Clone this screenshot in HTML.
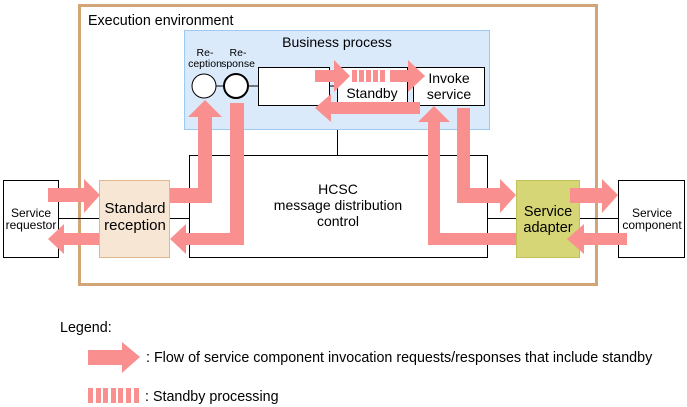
<!DOCTYPE html>
<html><head><meta charset="utf-8"><style>
html,body{margin:0;padding:0;background:#fff;}
svg{display:block;font-family:"Liberation Sans",sans-serif;}
</style></head><body>
<svg width="687" height="407" viewBox="0 0 687 407" xmlns="http://www.w3.org/2000/svg">
<rect x="79.5" y="5.5" width="517" height="279" fill="none" stroke="#d2a578" stroke-width="3"/>
<text x="88" y="25" font-size="14.3" fill="#000">Execution environment</text>
<rect x="184.5" y="30.5" width="305" height="99" fill="#dbeafb" stroke="#9ccaf0"/>
<text x="337" y="47" font-size="14" text-anchor="middle">Business process</text>
<text x="205" y="56" font-size="10.5" text-anchor="middle">Re-</text>
<text x="205" y="67" font-size="10.5" text-anchor="middle">ception</text>
<text x="238" y="56" font-size="10.5" text-anchor="middle">Re-</text>
<text x="238" y="67" font-size="10.5" text-anchor="middle">sponse</text>
<line x1="216" y1="86" x2="224" y2="86" stroke="#000"/>
<line x1="249" y1="86" x2="258" y2="86" stroke="#000"/>
<line x1="329" y1="86" x2="337" y2="86" stroke="#000"/>
<line x1="407" y1="86" x2="413" y2="86" stroke="#000"/>
<circle cx="204" cy="86" r="12" fill="#fff" stroke="#000"/>
<circle cx="236" cy="86" r="12" fill="#fff" stroke="#000" stroke-width="2"/>
<rect x="258.5" y="67.5" width="71" height="38" fill="#fff" stroke="#000"/>
<rect x="337.5" y="67.5" width="70" height="38" fill="#fff" stroke="#000"/>
<text x="372" y="98" font-size="14" text-anchor="middle">Standby</text>
<rect x="413.5" y="67.5" width="71" height="38" fill="#fff" stroke="#000"/>
<text x="449" y="83" font-size="14" text-anchor="middle">Invoke</text>
<text x="449" y="99" font-size="14" text-anchor="middle">service</text>
<line x1="337.5" y1="130" x2="337.5" y2="155" stroke="#000"/>
<rect x="189.5" y="155.5" width="298" height="102" fill="#fff" stroke="#000"/>
<text x="338" y="194" font-size="14" text-anchor="middle">HCSC</text>
<text x="338" y="210" font-size="14" text-anchor="middle">message distribution</text>
<text x="338" y="226" font-size="14" text-anchor="middle">control</text>
<line x1="58" y1="218.5" x2="99" y2="218.5" stroke="#000"/>
<line x1="169" y1="218.5" x2="189" y2="218.5" stroke="#000"/>
<line x1="487" y1="218.5" x2="516" y2="218.5" stroke="#000"/>
<line x1="579" y1="218.5" x2="618" y2="218.5" stroke="#000"/>
<rect x="3.5" y="180.5" width="55" height="77" fill="#fff" stroke="#000"/>
<text x="31" y="217" font-size="12" text-anchor="middle">Service</text>
<text x="31" y="229" font-size="12" text-anchor="middle">requestor</text>
<rect x="99.5" y="180.5" width="70" height="77" fill="#f7e6d4" stroke="#e0b890"/>
<text x="135" y="213" font-size="15" text-anchor="middle">Standard</text>
<text x="135" y="230" font-size="15" text-anchor="middle">reception</text>
<rect x="516.5" y="180.5" width="63" height="77" fill="#d7d676" stroke="#c2c25a"/>
<text x="548" y="216" font-size="14.5" text-anchor="middle">Service</text>
<text x="548" y="232" font-size="14.5" text-anchor="middle">adapter</text>
<rect x="618.5" y="180.5" width="66" height="77" fill="#fff" stroke="#000"/>
<text x="652" y="217" font-size="12" text-anchor="middle">Service</text>
<text x="652" y="229" font-size="12" text-anchor="middle">component</text>
<g fill="#f98f8f">
<polygon points="48,188 84,188 84,179 100,195 84,213 84,202 48,202"/>
<polygon points="99,233 64,233 64,224 48,239 64,254 64,245 99,245"/>
<polygon points="170,188 198,188 198,117 188,117 205,100 222,117 212,117 212,203 170,203"/>
<polygon points="230,103 244,103 244,245 186,245 186,254 170,239 186,224 186,233 230,233"/>
<polygon points="315,70 334,70 334,60 350,76 334,92 334,82 315,82"/>
<rect x="352" y="70" width="5" height="12"/><rect x="359" y="70" width="5" height="12"/><rect x="366" y="70" width="5" height="12"/><rect x="373" y="70" width="5" height="12"/><rect x="380" y="70" width="5" height="12"/>
<polygon points="390,70 408,70 408,60 425,76 408,92 408,82 390,82"/>
<polygon points="420,102 331,102 331,94 315,108 331,122 331,114 420,114"/>
<polygon points="457,108 470,108 470,188 500,188 500,179 516,195 500,213 500,203 457,203"/>
<polygon points="516,233 516,245 428,245 428,122 418,122 434,106 450,122 440,122 440,233"/>
<polygon points="570,188 602,188 602,179 618,195 602,213 602,203 570,203"/>
<polygon points="627,233 584,233 584,224 567,239 584,254 584,245 627,245"/>
<polygon points="88,350 122,350 122,342 140,357 122,373 122,365 88,365"/>
<rect x="88" y="388" width="5" height="15"/><rect x="96" y="388" width="5" height="15"/><rect x="103" y="388" width="5" height="15"/><rect x="111" y="388" width="5" height="15"/><rect x="118" y="388" width="5" height="15"/><rect x="126" y="388" width="5" height="15"/><rect x="134" y="388" width="5" height="15"/>
</g>
<text x="60" y="332" font-size="14.3">Legend:</text>
<text x="146" y="362" font-size="14.3">: Flow of service component invocation requests/responses that include standby</text>
<text x="145" y="401" font-size="14.3">: Standby processing</text>
</svg>
</body></html>
